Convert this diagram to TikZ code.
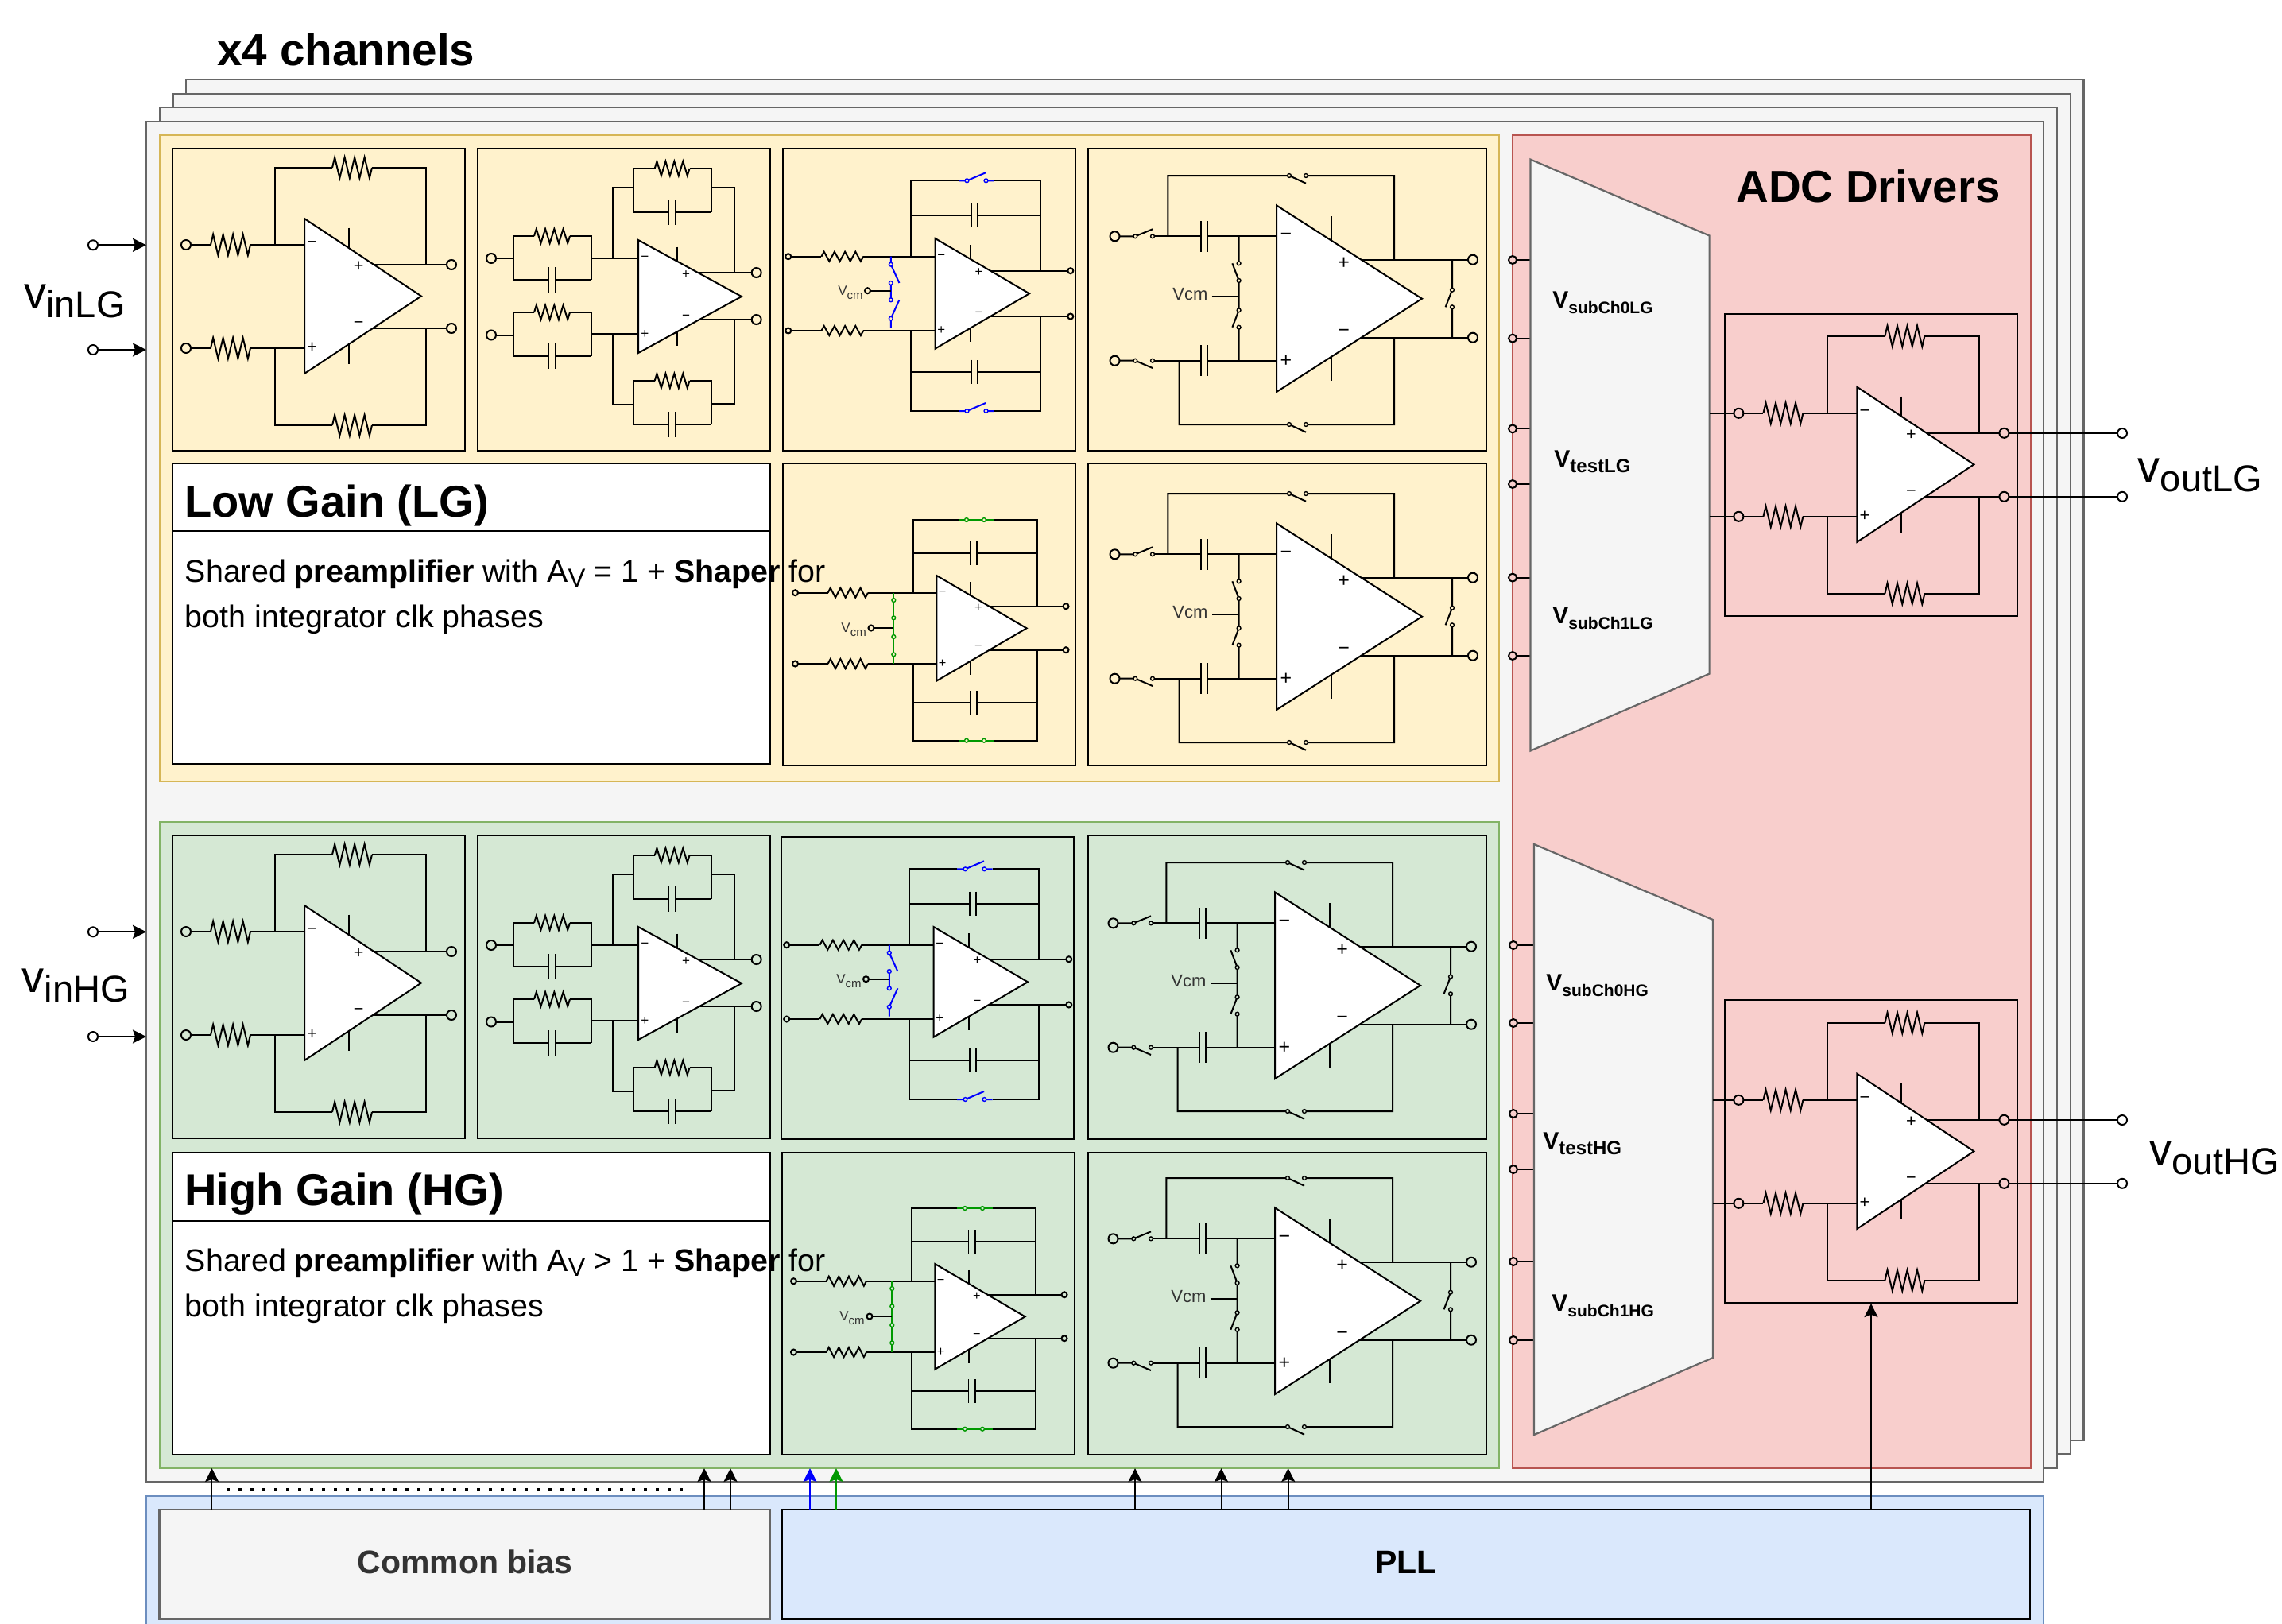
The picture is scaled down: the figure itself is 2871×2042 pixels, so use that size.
\documentclass[tikz,border=0pt]{standalone}
\usepackage{fontspec}
\setmainfont{Liberation Sans}
\usetikzlibrary{arrows.meta,fit}
\definecolor{yel}{HTML}{FFF2CC}\definecolor{yels}{HTML}{D6B656}
\definecolor{grn}{HTML}{D5E8D4}\definecolor{grns}{HTML}{82B366}
\definecolor{pnk}{HTML}{F8CECC}\definecolor{pnks}{HTML}{B85450}
\definecolor{blu}{HTML}{DAE8FC}\definecolor{blus}{HTML}{6C8EBF}
\definecolor{gry}{HTML}{F5F5F5}\definecolor{grys}{HTML}{666666}
\definecolor{bl}{HTML}{0000FF}\definecolor{gr}{HTML}{009900}
\colorlet{bgc}{yel}
\tikzset{
  wire/.style={line width=1pt,black},
  plate/.style={line width=.9pt,black},
  frame/.style={draw=grys,fill=gry,line width=1.2pt,inner sep=0pt},
  yelbox/.style={draw=yels,fill=yel,line width=1.1pt,inner sep=0pt},
  grnbox/.style={draw=grns,fill=grn,line width=1.1pt,inner sep=0pt},
  pnkbox/.style={draw=pnks,fill=pnk,line width=1.1pt,inner sep=0pt},
  blubox/.style={draw=blus,fill=blu,line width=1.1pt,inner sep=0pt},
  cell/.style={draw=black,line width=1pt,inner sep=0pt},
  whitecell/.style={draw=black,fill=white,line width=1pt,inner sep=0pt},
  pllcell/.style={draw=black,fill=blu,line width=1.1pt,inner sep=0pt},
  biascell/.style={draw=grys,fill=gry,line width=1.2pt,inner sep=0pt},
  mux/.style={draw=grys,fill=gry,line width=1.1pt},
  sgn/.style={inner sep=0pt,font=\fontsize{\fs}{\fs}\selectfont},
  lab/.style={inner sep=0pt,anchor=base west},
  feed/.style={line width=.8pt,-{Stealth[length=8.5pt,width=8.5pt,inset=1.5pt]}},
}
\newcounter{nn}
\newcommand\Blk[6]{\node[#2,fit={(#3,#4)(#5,#6)}] (#1) {};}
\newcommand\Sgn[3]{\stepcounter{nn}\node[sgn] (sg\arabic{nn}) at (#1,#2) {#3};}
\newcommand\Txt[4][]{\stepcounter{nn}\node[lab,#1] (tx\arabic{nn}) at (#2,#3) {#4};}
\newcommand\Res[5][black]{\pgfmathsetmacro\st{(#3-#2)/16}%
  \draw[wire,#1] (#2,#4) -- ++(\st,-#5) -- ++({2*\st},{2*#5}) -- ++({2*\st},{-2*#5}) -- ++({2*\st},{2*#5}) -- ++({2*\st},{-2*#5}) -- ++({2*\st},{2*#5}) -- ++({2*\st},{-2*#5}) -- ++({2*\st},{2*#5}) -- ++(\st,-#5);}
\newcommand\CapH[5]{\draw[wire] (#1,#3) -- ({#4-4.3},#3) ({#4+4.3},#3) -- (#2,#3);
  \draw[plate] ({#4-4.3},{#3-#5}) -- ({#4-4.3},{#3+#5}) ({#4+4.3},{#3-#5}) -- ({#4+4.3},{#3+#5});}
\newcommand\Pinn[3]{\draw[wire,fill=bgc] (#1,#2) circle[radius=#3];}
\newcommand\Dot[3][black]{\draw[line width=.7pt,#1,fill=bgc] (#2,#3) circle[radius=2.4];}
\newcommand\Opamp[4]{%
  \draw[wire] ({#1+.378*#4},{#2-.88*#3}) -- ({#1+.378*#4},{#2+.88*#3});
  \draw[wire,fill=white] (#1,{#2-#3}) -- ({#1+#4},#2) -- (#1,{#2+#3}) -- cycle;
  \pgfmathsetmacro\fs{#3*.085+2.5}
  \Sgn{{#1+.065*#4}}{{#2-.667*#3}}{−}
  \Sgn{{#1+.065*#4}}{{#2+.667*#3}}{+}
  \Sgn{{#1+.463*#4}}{{#2-.38*#3}}{+}
  \Sgn{{#1+.463*#4}}{{#2+.37*#3}}{−}
}
\newcommand\CircA{%
  \draw[wire] (234,308) -- (265,308) (315,308) -- (390,308) (234,438) -- (265,438) (315,438) -- (390,438);
  \Res{265}{315}{308}{13}\Res{265}{315}{438}{13}
  \draw[wire] (345.6,308) -- (345.6,211) -- (418,211) (468,211) -- (536.4,211) -- (536.4,333);
  \draw[wire] (345.6,438) -- (345.6,535) -- (418,535) (468,535) -- (536.4,535) -- (536.4,413);
  \Res{418}{468}{211}{13}\Res{418}{468}{535}{13}
  \draw[wire] (460,333) -- (568,333) (460,413) -- (568,413);
  \Pinn{234}{308}{6}\Pinn{234}{438}{6}\Pinn{568}{333}{6}\Pinn{568}{413}{6}
  \Opamp{383}{372.5}{97.5}{147}
}
\newcommand\RCblock[8]{% left right top bottom xres1 xres2 xcap amp
  \draw[wire] (#5,#3) -- (#1,#3) -- (#1,#4) (#6,#3) -- (#2,#3) -- (#2,#4);
  \Res{#5}{#6}{#3}{#8}
  \CapH{#1}{#2}{#4}{#7}{15.7}
}
\newcommand\CircB{%
  \draw[wire] (618,325) -- (645.6,325) (618,421.5) -- (645.6,421.5);
  \RCblock{645.6}{743.6}{297}{352}{672}{717}{694.6}{9}
  \RCblock{645.6}{743.6}{393}{448}{672}{717}{694.6}{9}
  \RCblock{797}{894.6}{212}{267}{823.7}{867.5}{845.6}{9}
  \RCblock{797}{894.6}{479}{534}{823.7}{867.5}{845.6}{9}
  \draw[wire] (743.6,325) -- (810,325) (743.6,420) -- (810,420);
  \draw[wire] (771,325) -- (771,236) -- (797,236) (894.6,236) -- (924,236) -- (924,343);
  \draw[wire] (771,420) -- (771,509) -- (797,509) (894.6,508) -- (924,508) -- (924,402);
  \draw[wire] (870,343) -- (951.7,343) (870,402) -- (951.7,402);
  \Pinn{618}{325}{6}\Pinn{618}{421.5}{6}\Pinn{951.7}{343}{6}\Pinn{951.7}{402}{6}
  \Opamp{803}{373}{71}{130}
}
\newcommand\CircC{%
  \draw[wire] (991.7,322.7) -- (1033.4,322.7) (1086.2,322.7) -- (1180,322.7) (991.7,416) -- (1033.4,416) (1086.2,416) -- (1180,416);
  \Res{1033.4}{1086.2}{322.7}{6}\Res{1033.4}{1086.2}{416}{6}
  \draw[wire] (1146,322.7) -- (1146,227.3) -- (1206,227.3) (1250.5,227.3) -- (1308.6,227.3) -- (1308.6,340.7);
  \draw[wire] (1146,416) -- (1146,517) -- (1206,517) (1250.5,517) -- (1308.6,517) -- (1308.6,398);
  \CapH{1146}{1308.6}{270.7}{1225.9}{15}\CapH{1146}{1308.6}{467.7}{1225.9}{15}
  \draw[wire] (1240,340.7) -- (1346.8,340.7) (1240,398) -- (1346.8,398);
  \Pinn{991.7}{322.7}{3.5}\Pinn{991.7}{416}{3.5}\Pinn{1346.8}{340.7}{3.5}\Pinn{1346.8}{398}{3.5}
  \draw[wire,bl] (1206,227.3) -- (1216.5,227.3) -- (1240,217.3) (1240.5,227.3) -- (1250.5,227.3);
  \draw[wire,bl] (1206,517) -- (1216.5,517) -- (1240,507) (1240.5,517) -- (1250.5,517);
  \Dot[bl]{1216.5}{227.3}\Dot[bl]{1240.5}{227.3}\Dot[bl]{1216.5}{517}\Dot[bl]{1240.5}{517}
  \draw[wire,bl] (1120.8,322.7) -- (1120.8,332.7) -- (1131.4,356) (1120.8,356) -- (1120.8,377.3) (1131.4,377.3) -- (1120.8,400.7) -- (1120.8,412.7);
  \draw[wire] (1091.5,365.7) -- (1120.8,365.7);
  \Dot[bl]{1120.8}{332.7}\Dot[bl]{1120.8}{356}\Dot[bl]{1120.8}{377.3}\Dot[bl]{1120.8}{400.7}
  \Pinn{1091.5}{365.7}{3.5}
  \Txt[text=black!80]{1054}{371}{\fontsize{8.5}{9}\selectfont V\raisebox{-2.5pt}{\fontsize{7.5}{8}\selectfont cm}}
  \Opamp{1176.6}{369.3}{69.3}{118.4}
}
\newcommand\CircCc{%
  \draw[wire] (1000.5,745.7) -- (1041.6,745.7) (1092,745.7) -- (1185,745.7) (1000.5,835) -- (1041.6,835) (1092,835) -- (1185,835);
  \Res{1041.6}{1092}{745.7}{6}\Res{1041.6}{1092}{835}{6}
  \draw[wire] (1149,745.7) -- (1149,654) -- (1206,654) (1250.5,654) -- (1304.5,654) -- (1304.5,762.7);
  \draw[wire] (1149,835) -- (1149,931.7) -- (1206,931.7) (1250.5,931.7) -- (1304.5,931.7) -- (1304.5,817.7);
  \CapH{1149}{1304.5}{696}{1224.7}{15}\CapH{1149}{1304.5}{884.3}{1224.7}{15}
  \draw[wire] (1238,762.7) -- (1341,762.7) (1238,817.7) -- (1341,817.7);
  \Pinn{1000.5}{745.7}{3.5}\Pinn{1000.5}{835}{3.5}\Pinn{1341}{762.7}{3.5}\Pinn{1341}{817.7}{3.5}
  \draw[wire,gr] (1206,654) -- (1250.5,654) (1206,931.7) -- (1250.5,931.7);
  \Dot[gr]{1216}{654}\Dot[gr]{1238}{654}\Dot[gr]{1216}{931.7}\Dot[gr]{1238}{931.7}
  \draw[wire,gr] (1124.3,745.7) -- (1124.3,835);
  \draw[wire] (1096,790) -- (1124.3,790);
  \Dot[gr]{1124.3}{755}\Dot[gr]{1124.3}{777.3}\Dot[gr]{1124.3}{801}\Dot[gr]{1124.3}{823.3}
  \Pinn{1096}{790}{3.5}
  \Txt[text=black!80]{1058}{795}{\fontsize{8.5}{9}\selectfont V\raisebox{-2.5pt}{\fontsize{7.5}{8}\selectfont cm}}
  \Opamp{1178.3}{790.3}{66.3}{113.3}
}
\newcommand\CircD{%
  \draw[wire] (1402.5,297.3) -- (1428.3,297.3) -- (1450,288.3) (1402.5,453.7) -- (1428.3,453.7) -- (1450,463);
  \CapH{1450}{1612}{297.3}{1515}{19.3}\CapH{1450}{1612}{453.7}{1515}{19.3}
  \draw[wire] (1469.4,297.3) -- (1469.4,221) -- (1622,221) -- (1643,230.7) (1643,221) -- (1754,221) -- (1754,326.7);
  \draw[wire] (1483.5,453.7) -- (1483.5,534) -- (1622,534) -- (1643,543.7) (1643,534) -- (1754,534) -- (1754,424.7);
  \draw[wire] (1705,326.7) -- (1853,326.7) (1705,424.7) -- (1853,424.7);
  \draw[wire] (1827,326.7) -- (1827,364.7) -- (1818.6,386.3) (1827,386.3) -- (1827,424.7);
  \draw[wire] (1558.6,297.3) -- (1558.6,331.3) (1550.4,331.3) -- (1558.6,353) -- (1558.6,390.3) -- (1550.4,411.7) (1558.6,411.7) -- (1558.6,453.7);
  \draw[wire] (1524.6,372.7) -- (1558.6,372.7);
  \Pinn{1402.5}{297.3}{6}\Pinn{1402.5}{453.7}{6}\Pinn{1853}{326.7}{6}\Pinn{1853}{424.7}{6}
  \Dot{1428.3}{297.3}\Dot{1450}{297.3}\Dot{1428.3}{453.7}\Dot{1450}{453.7}
  \Dot{1622}{221}\Dot{1643}{221}\Dot{1622}{534}\Dot{1643}{534}
  \Dot{1827}{364.7}\Dot{1827}{386.3}
  \Dot{1558.6}{331.3}\Dot{1558.6}{353}\Dot{1558.6}{390.3}\Dot{1558.6}{411.7}
  \Txt[text=black!80]{1475}{377.5}{\fontsize{11}{12}\selectfont Vcm}
  \Opamp{1606}{375.7}{117.3}{183}
}
\newcommand\BigV[4]{\Txt{#1}{#2}{\fontsize{28}{30}\selectfont #3\raisebox{-6.3pt}{\fontsize{23.5}{25}\selectfont #4}}}
\newcommand\MidV[5]{\Txt{#1}{#2}{\bfseries\fontsize{15}{16}\selectfont V\raisebox{-3.5pt}{\fontsize{#5}{12}\selectfont #4}}}
\newcommand\BodyT[1]{Shared \textbf{preamplifier} with A\raisebox{-3pt}{\fontsize{16.4}{18}\selectfont V} #1 1 + \textbf{Shaper} for\\both integrator clk phases}
\tikzset{bodytxt/.style={lab,align=left,font=\fontsize{19.7}{28.5}\selectfont}}
\begin{document}
\begin{tikzpicture}[x=.5pt,y=-.5pt]
\useasboundingbox (0,0) rectangle (2871,2042);
% stacked channel frames
\Blk{ch4}{frame}{234}{100}{2621.6}{1812}
\Blk{ch3}{frame}{217.4}{118}{2605}{1829}
\Blk{ch2}{frame}{201}{135}{2588}{1847}
\Blk{ch1}{frame}{184}{153}{2571}{1864}
\Txt{273}{82}{\bfseries\fontsize{28.3}{30}\selectfont x4 channels}
% gain regions
\Blk{lg}{yelbox}{201}{170}{1886}{983}
\Blk{hg}{grnbox}{201}{1034}{1886}{1847}
\Blk{adc}{pnkbox}{1903}{170}{2555}{1847}
% cells LG
\Blk{la}{cell}{217}{187}{585}{567}
\Blk{lb}{cell}{601}{187}{969}{567}
\Blk{lc}{cell}{985}{187}{1353}{567}
\Blk{ld}{cell}{1369}{187}{1870}{567}
\Blk{le}{cell}{985}{583}{1353}{963}
\Blk{lf}{cell}{1369}{583}{1870}{963}
% cells HG
\Blk{ha}{cell}{217}{1051}{585}{1432}
\Blk{hb}{cell}{601}{1051}{969}{1432}
\Blk{hc}{cell}{983}{1053}{1351}{1433}
\Blk{hd}{cell}{1369}{1051}{1870}{1433}
\Blk{he}{cell}{984}{1450}{1352}{1830}
\Blk{hf}{cell}{1369}{1450}{1870}{1830}
% title boxes
\Blk{lt}{whitecell}{217}{583}{969}{961}
\Blk{lh}{whitecell}{217}{583}{969}{668}
\Blk{ht}{whitecell}{217}{1450}{969}{1830}
\Blk{hh}{whitecell}{217}{1450}{969}{1536}
\Txt{232}{650}{\bfseries\fontsize{28}{30}\selectfont Low Gain (LG)}
\Txt{232}{1516}{\bfseries\fontsize{28}{30}\selectfont High Gain (HG)}
\node[bodytxt] (ltx) at (232.5,789.5) {\BodyT{=}};
\node[bodytxt] (htx) at (232.5,1656) {\BodyT{>}};
% circuits LG
\colorlet{bgc}{yel}
\CircA \CircB \CircC \CircCc \CircD
\begin{scope}[shift={(0,400)}]\CircD\end{scope}
% circuits HG
\colorlet{bgc}{grn}
\begin{scope}[shift={(0,864)}]\CircA \CircB\end{scope}
\begin{scope}[shift={(-2,866)}]\CircC \CircCc\end{scope}
\begin{scope}[shift={(-2,864)}]\CircD\end{scope}
\begin{scope}[shift={(-2,1261)}]\CircD\end{scope}
% ADC drivers
\colorlet{bgc}{pnk}
\Txt{2184}{254}{\bfseries\fontsize{28.2}{30}\selectfont ADC Drivers}
\draw[wire] (1903,327) -- (1926,327) (1903,425.6) -- (1926,425.6) (1903,539.4) -- (1926,539.4) (1903,609) -- (1926,609) (1903,726.6) -- (1926,726.6) (1903,825) -- (1926,825);
\draw[wire] (1904,1189) -- (1930,1189) (1904,1287) -- (1930,1287) (1904,1401) -- (1930,1401) (1904,1471) -- (1930,1471) (1904,1587) -- (1930,1587) (1904,1686) -- (1930,1686);
\draw[mux] (1925.5,200.6) -- (2150.6,296.5) -- (2150.6,847.6) -- (1925.5,944.5) -- cycle;
\draw[mux] (1930,1062) -- (2155,1157) -- (2155,1708) -- (1930,1805) -- cycle;
\foreach \yy in {327,425.6,539.4,609,726.6,825}{\Pinn{1903}{\yy}{5}}
\foreach \yy in {1189,1287,1401,1471,1587,1686}{\Pinn{1904}{\yy}{5}}
\MidV{1953}{387}{}{subCh0LG}{10.5}
\MidV{1955}{587}{}{testLG}{12}
\MidV{1953}{784}{}{subCh1LG}{10.5}
\MidV{1945}{1246}{}{subCh0HG}{10.5}
\MidV{1941}{1445}{}{testHG}{12}
\MidV{1952}{1649}{}{subCh1HG}{10.5}
\Blk{dl}{cell}{2170.4}{394.5}{2537.7}{775}
\Blk{dh}{cell}{2170.4}{1258}{2537.7}{1639}
\draw[wire] (2150.6,520) -- (2187,520) (2150.6,650) -- (2187,650);
\draw[wire] (2155,1384) -- (2187,1384) (2155,1514) -- (2187,1514);
\draw[wire] (2520,545) -- (2670,545) (2520,624.8) -- (2670,624.8);
\draw[wire] (2520,1409) -- (2670,1409) (2520,1488.8) -- (2670,1488.8);
\begin{scope}[shift={(1953.4,211.8)}]\CircA\end{scope}
\begin{scope}[shift={(1953.4,1075.8)}]\CircA\end{scope}
\colorlet{bgc}{white}
\Pinn{2670}{545}{6}\Pinn{2670}{624.8}{6}\Pinn{2670}{1409}{6}\Pinn{2670}{1488.8}{6}
\BigV{2689.5}{606}{v}{outLG}
\BigV{2704}{1465}{v}{outHG}
% inputs
\foreach \yy/\nm in {308.3/a,440/b,1172.3/c,1304/d}{
  \node[draw,line width=1pt,circle,minimum size=6pt,inner sep=0pt,fill=white] (in\nm) at (117,\yy) {};
  \coordinate (tip\nm) at (184,\yy);
  \draw[feed,line width=1pt] (in\nm) -- (tip\nm);
}
\BigV{30}{387}{v}{inLG}
\BigV{27.5}{1248}{v}{inHG}
% bottom blocks
\Blk{dig}{blubox}{184}{1882}{2571}{2060}
\node[biascell,fit={(200.6,1899)(969,2037)}] (bias) {};
\Blk{pll}{pllcell}{984}{1899}{2554}{2037}
\node[inner sep=0pt,text=black!80,font=\bfseries\fontsize{20.5}{22}\selectfont] (biast) at (585,1965) {Common bias};
\node[inner sep=0pt,font=\bfseries\fontsize{20.5}{22}\selectfont] (pllt) at (1769,1965) {PLL};
% control arrows
\foreach \xx/\cc/\nm in {266.6/black/a,886/black/b,919/black/c,1019/bl/d,1052/gr/e,1428/black/f,1536.5/black/g,1620.7/black/h}{
  \coordinate (fr\nm) at (\xx,1899);
  \coordinate (to\nm) at (\xx,1847);
  \draw[feed,\cc] (fr\nm) -- (to\nm);
}
\coordinate (frz) at (2354,1899);
\coordinate (toz) at (2354,1640);
\draw[feed] (frz) -- (toz);
\coordinate (dota) at (285,1873.7);
\coordinate (dotb) at (861,1873.7);
\draw[line width=2pt,dash pattern=on 2pt off 5.5pt] (dota) -- (dotb);
\end{tikzpicture}
\end{document}
